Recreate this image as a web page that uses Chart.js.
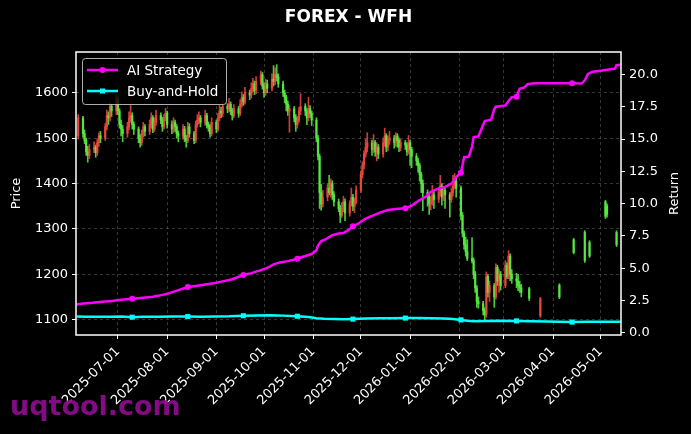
<!DOCTYPE html>
<html>
<head>
<meta charset="utf-8">
<script src="https://cdn.jsdelivr.net/npm/chart.js@4.4.1/dist/chart.umd.min.js"></script>
<style>
  html, body { margin: 0; background: #000; }
  canvas { display: block; }
</style>
</head>
<body>
<canvas id="chart" width="691" height="434"></canvas>
<script>
  // day numbers count from 2025-06-01 (day 0)
  const tickDays = [30, 61, 92, 122, 153, 183, 214, 245, 273, 304, 334];
  const tickLabels = ['2025-07-01', '2025-08-01', '2025-09-01', '2025-10-01', '2025-11-01', '2025-12-01',
    '2026-01-01', '2026-02-01', '2026-03-01', '2026-04-01', '2026-05-01'];
  const priceTicks = [1100, 1200, 1300, 1400, 1500, 1600];
  const returnTicks = [0, 2.5, 5, 7.5, 10, 12.5, 15, 17.5, 20];

  // ---------- candles ----------
  const candleDays = [5,
    8, 9, 10, 11, 12, 15, 16, 17, 18, 19, 22, 23, 24, 25, 26, 29, 30, 31, 32, 33,
    36, 37, 38, 39, 40, 43, 44, 45, 46, 47, 50, 51, 52, 53, 54, 57, 58, 59, 60, 61,
    64, 65, 66, 67, 68, 71, 72, 73, 74, 75, 78, 79, 80, 81, 82, 85, 86, 87, 88, 89,
    92, 93, 94, 95, 96, 99, 100, 101, 102, 103, 106, 107, 108, 109, 110, 113, 114, 115, 116, 117,
    120, 121, 122, 123, 124, 127, 128, 129, 130, 131, 134, 135, 136, 137, 138, 141, 142, 143, 144, 145,
    148, 149, 150, 151, 152, 155, 156, 157, 158, 159, 162, 163, 164, 165, 166, 169, 170, 171, 172, 173,
    176, 177, 178, 179, 180, 183, 184, 185, 186, 187, 190, 191, 192, 193, 194, 197, 198, 199, 200, 201,
    204, 205, 206, 207, 208, 211, 212, 213, 214, 215, 218, 219, 220, 221, 222, 225, 226, 227, 228, 229,
    232, 233, 234, 235, 236, 239, 240, 241, 242, 243, 246, 247, 248, 249, 250, 253, 254, 255, 256, 257,
    260, 261, 262, 263, 264, 267, 268, 269, 270, 271, 274, 275, 276, 277, 278, 281, 282, 283, 284,
    289, 296, 308, 317, 324, 327, 337, 338, 344];

  const openPrices = [1505,
    1545, 1510, 1495, 1470, 1462, 1475, 1480, 1468, 1490, 1505, 1500, 1525, 1550, 1545, 1570, 1560, 1585, 1560, 1530, 1520,
    1510, 1525, 1545, 1550, 1530, 1520, 1500, 1490, 1510, 1525, 1515, 1530, 1545, 1520, 1535, 1550, 1540, 1525, 1545, 1555,
    1530, 1520, 1535, 1525, 1510, 1505, 1520, 1500, 1495, 1525, 1510, 1495, 1530, 1540, 1545, 1535, 1550, 1530, 1525, 1510,
    1535, 1520, 1545, 1560, 1555, 1570, 1565, 1575, 1560, 1550, 1565, 1555, 1575, 1590, 1580, 1600, 1595, 1610, 1620, 1605,
    1625, 1640, 1615, 1600, 1620, 1610, 1630, 1625, 1640, 1635, 1620, 1600, 1590, 1575, 1560, 1565, 1545, 1530, 1540, 1560,
    1570, 1560, 1545, 1565, 1555, 1540, 1500, 1460, 1380, 1355, 1370, 1390, 1380, 1400, 1375, 1360, 1345, 1330, 1345, 1360,
    1335, 1355, 1370, 1350, 1360, 1385, 1420, 1440, 1465, 1480, 1490, 1475, 1490, 1470, 1480, 1465, 1490, 1505, 1480, 1495,
    1500, 1490, 1505, 1495, 1480, 1490, 1485, 1470, 1490, 1475, 1460, 1450, 1440, 1420, 1400, 1380, 1370, 1355, 1360, 1375,
    1365, 1380, 1395, 1370, 1385, 1375, 1365, 1380, 1395, 1405, 1390, 1330, 1290, 1265, 1250, 1235, 1230, 1200, 1170, 1140,
    1135, 1120, 1112, 1195, 1160, 1175, 1150, 1215, 1185, 1200, 1175, 1220, 1195, 1240, 1200, 1190, 1185, 1175, 1170,
    1168, 1108, 1176, 1276, 1292, 1270, 1360, 1350, 1292];

  const highPrices = [1552,
    1548, 1518, 1500, 1482, 1486, 1492, 1485, 1498, 1512, 1515, 1532, 1562, 1558, 1578, 1575, 1596, 1590, 1565, 1540, 1528,
    1535, 1558, 1572, 1556, 1536, 1525, 1508, 1518, 1535, 1530, 1540, 1556, 1550, 1545, 1562, 1556, 1546, 1552, 1566, 1560,
    1538, 1545, 1540, 1530, 1516, 1530, 1526, 1506, 1535, 1532, 1515, 1538, 1552, 1558, 1550, 1562, 1555, 1536, 1530, 1545,
    1540, 1555, 1572, 1568, 1582, 1576, 1588, 1580, 1566, 1574, 1570, 1585, 1602, 1596, 1612, 1606, 1622, 1632, 1626, 1636,
    1648, 1645, 1622, 1630, 1628, 1642, 1660, 1655, 1662, 1642, 1626, 1606, 1595, 1582, 1572, 1570, 1552, 1548, 1568, 1598,
    1576, 1565, 1590, 1572, 1560, 1545, 1506, 1465, 1398, 1385, 1400, 1418, 1410, 1406, 1382, 1366, 1352, 1358, 1372, 1366,
    1362, 1390, 1376, 1368, 1395, 1428, 1448, 1472, 1498, 1512, 1496, 1508, 1495, 1490, 1486, 1500, 1522, 1510, 1505, 1515,
    1506, 1512, 1510, 1500, 1498, 1495, 1490, 1506, 1496, 1480, 1466, 1456, 1445, 1425, 1408, 1386, 1376, 1372, 1396, 1382,
    1392, 1418, 1400, 1392, 1390, 1380, 1390, 1418, 1422, 1412, 1395, 1336, 1295, 1282, 1276, 1281, 1236, 1206, 1175, 1150,
    1140, 1126, 1205, 1200, 1185, 1180, 1223, 1220, 1210, 1206, 1230, 1225, 1252, 1245, 1210, 1202, 1200, 1185, 1178,
    1171, 1149, 1179, 1279, 1296, 1274, 1363, 1355, 1296];

  const lowPrices = [1498,
    1502, 1488, 1462, 1447, 1455, 1468, 1458, 1462, 1482, 1490, 1495, 1518, 1530, 1538, 1548, 1552, 1552, 1522, 1505, 1492,
    1502, 1518, 1535, 1520, 1508, 1490, 1480, 1484, 1502, 1505, 1508, 1522, 1512, 1515, 1528, 1532, 1515, 1520, 1538, 1522,
    1510, 1512, 1515, 1500, 1492, 1498, 1492, 1480, 1490, 1502, 1488, 1490, 1524, 1532, 1525, 1528, 1522, 1515, 1502, 1505,
    1512, 1515, 1538, 1545, 1548, 1556, 1558, 1552, 1540, 1545, 1546, 1550, 1568, 1572, 1575, 1585, 1588, 1602, 1596, 1598,
    1618, 1608, 1590, 1594, 1600, 1604, 1615, 1618, 1626, 1612, 1592, 1578, 1560, 1550, 1513, 1536, 1515, 1522, 1535, 1552,
    1550, 1530, 1538, 1546, 1528, 1492, 1452, 1345, 1341, 1348, 1362, 1375, 1370, 1365, 1350, 1338, 1314, 1325, 1338, 1318,
    1328, 1350, 1340, 1336, 1355, 1380, 1412, 1432, 1458, 1470, 1462, 1468, 1460, 1450, 1455, 1458, 1482, 1470, 1472, 1486,
    1478, 1482, 1480, 1470, 1472, 1475, 1462, 1465, 1440, 1435, 1440, 1425, 1405, 1380, 1340, 1350, 1332, 1342, 1352, 1345,
    1358, 1372, 1352, 1362, 1345, 1326, 1358, 1372, 1388, 1370, 1320, 1282, 1255, 1240, 1230, 1225, 1190, 1160, 1127, 1125,
    1110, 1098, 1105, 1150, 1140, 1127, 1145, 1175, 1160, 1165, 1170, 1190, 1190, 1186, 1180, 1170, 1164, 1160, 1150,
    1142, 1105, 1146, 1245, 1226, 1237, 1323, 1326, 1261];

  const closePrices = [1545,
    1510, 1495, 1470, 1462, 1475, 1480, 1468, 1490, 1505, 1500, 1525, 1550, 1545, 1570, 1560, 1585, 1560, 1530, 1520, 1510,
    1525, 1545, 1550, 1530, 1520, 1500, 1490, 1510, 1525, 1515, 1530, 1545, 1520, 1535, 1550, 1540, 1525, 1545, 1555, 1530,
    1520, 1535, 1525, 1510, 1505, 1520, 1500, 1495, 1525, 1510, 1495, 1530, 1540, 1545, 1535, 1550, 1530, 1525, 1510, 1535,
    1520, 1545, 1560, 1555, 1570, 1565, 1575, 1560, 1550, 1565, 1555, 1575, 1590, 1580, 1600, 1595, 1610, 1620, 1605, 1625,
    1640, 1615, 1600, 1620, 1610, 1630, 1625, 1640, 1635, 1620, 1600, 1590, 1575, 1560, 1565, 1545, 1530, 1540, 1560, 1570,
    1560, 1545, 1565, 1555, 1540, 1500, 1460, 1380, 1355, 1370, 1390, 1380, 1400, 1375, 1360, 1345, 1330, 1345, 1360, 1335,
    1355, 1370, 1350, 1360, 1385, 1420, 1440, 1465, 1480, 1490, 1475, 1490, 1470, 1480, 1465, 1490, 1505, 1480, 1495, 1500,
    1490, 1505, 1495, 1480, 1490, 1485, 1470, 1490, 1475, 1460, 1450, 1440, 1420, 1400, 1380, 1370, 1355, 1360, 1375, 1365,
    1380, 1395, 1370, 1385, 1375, 1365, 1380, 1395, 1405, 1390, 1330, 1290, 1265, 1250, 1235, 1230, 1200, 1170, 1140, 1135,
    1120, 1110, 1195, 1160, 1175, 1150, 1215, 1185, 1200, 1175, 1220, 1195, 1240, 1200, 1190, 1185, 1175, 1170, 1160,
    1147, 1146, 1150, 1248, 1230, 1240, 1328, 1332, 1265];

  // ---------- return lines ----------
  const aiDays = [4, 8, 14, 20, 26, 32, 39, 46, 52, 56, 62, 68, 74, 80, 86, 91, 96, 102, 109, 114,
    120, 124, 128, 132, 137, 143, 148, 152, 155, 156, 158, 161, 165, 169, 172, 175, 178, 182, 186, 190,
    195, 200, 205, 211, 215, 220, 224, 227, 231, 236, 240, 243, 246, 247, 248, 251, 253, 254, 257, 259,
    261, 265, 267, 268, 274, 276, 278, 281, 283, 286, 288, 292, 300, 316, 322, 324, 326, 329, 335, 340,
    343, 344, 347];
  const aiReturns = [2.20, 2.26, 2.32, 2.40, 2.47, 2.55, 2.63, 2.72, 2.80, 2.88, 3.05, 3.30, 3.55, 3.65, 3.76, 3.85, 3.98, 4.15, 4.47, 4.62,
    4.85, 5.02, 5.30, 5.45, 5.55, 5.73, 5.95, 6.10, 6.40, 6.75, 7.10, 7.25, 7.55, 7.68, 7.72, 7.95, 8.25, 8.50, 8.85, 9.05,
    9.30, 9.50, 9.58, 9.64, 9.85, 10.28, 10.55, 10.92, 11.12, 11.30, 11.55, 12.05, 12.40, 13.00, 13.60, 13.65, 14.40, 15.15, 15.20, 15.80,
    16.40, 16.50, 17.30, 17.50, 17.60, 17.95, 18.25, 18.28, 18.90, 19.00, 19.25, 19.32, 19.33, 19.32, 19.30, 19.55, 20.05, 20.22, 20.30, 20.40,
    20.45, 20.72, 20.76];

  const bhDays = [4, 10, 18, 26, 32, 39, 46, 56, 64, 74, 82, 91, 100, 109, 118, 126, 134, 143, 150, 155,
    160, 166, 172, 178, 186, 195, 203, 211, 219, 227, 235, 241, 246, 250, 254, 262, 270, 281, 290, 300,
    308, 316, 325, 335, 347];
  const bhReturns = [1.26, 1.25, 1.24, 1.25, 1.26, 1.21, 1.25, 1.24, 1.26, 1.26, 1.25, 1.27, 1.28, 1.32, 1.34, 1.36, 1.33, 1.28, 1.22, 1.12,
    1.08, 1.06, 1.04, 1.06, 1.10, 1.12, 1.13, 1.14, 1.14, 1.12, 1.10, 1.07, 1.00, 0.94, 0.90, 0.91, 0.93, 0.92, 0.90, 0.88,
    0.86, 0.83, 0.85, 0.85, 0.85];

  const markerDays = [39, 74, 109, 143, 178, 211, 246, 281, 316];

  const FONT = 'DejaVu Sans';
  const RED = 'rgba(240,72,64,0.85)';
  const GREEN = 'rgba(86,240,66,0.85)';
  const GRID = 'rgba(150,150,150,0.45)';

  Chart.defaults.font.family = FONT;
  Chart.defaults.color = '#fff';

  const wickData = candleDays.map((d, i) => ({ x: d, y: [lowPrices[i], highPrices[i]] }));
  const bodyData = candleDays.map((d, i) => ({ x: d, y: [openPrices[i], closePrices[i]] }));
  const candleColors = candleDays.map((d, i) => closePrices[i] > openPrices[i] ? RED : GREEN);

  const markerSize = (r) => (ctx) => (ctx.raw && markerDays.includes(ctx.raw.x)) ? r : 0;

  // title, frame, legend, axis titles, watermark
  const decor = {
    id: 'decor',
    afterDatasetsDraw(chart) {
      const { ctx, chartArea: a } = chart;
      ctx.save();
      ctx.strokeStyle = '#fff';
      ctx.lineWidth = 1.5;
      ctx.strokeRect(a.left, a.top, a.right - a.left, a.bottom - a.top);

      // legend box
      ctx.beginPath();
      ctx.roundRect(82.5, 58.5, 144, 46, 3);
      ctx.fillStyle = 'rgba(0,0,0,0.8)';
      ctx.fill();
      ctx.strokeStyle = 'rgba(204,204,204,0.85)';
      ctx.lineWidth = 1;
      ctx.stroke();

      const items = [
        { label: 'AI Strategy', color: '#ff00ff', y: 70, square: false },
        { label: 'Buy-and-Hold', color: '#00ffff', y: 91, square: true },
      ];
      ctx.font = '13.5px ' + FONT;
      ctx.textBaseline = 'middle';
      ctx.textAlign = 'left';
      for (const it of items) {
        ctx.strokeStyle = it.color;
        ctx.lineWidth = 2.5;
        ctx.beginPath();
        ctx.moveTo(87, it.y);
        ctx.lineTo(118, it.y);
        ctx.stroke();
        ctx.fillStyle = it.color;
        if (it.square) {
          ctx.fillRect(100, it.y - 2.5, 5, 5);
        } else {
          ctx.beginPath();
          ctx.arc(102.5, it.y, 3, 0, Math.PI * 2);
          ctx.fill();
        }
        ctx.fillStyle = '#fff';
        ctx.fillText(it.label, 127, it.y + 1);
      }
      ctx.restore();
    },
    afterDraw(chart) {
      const { ctx, chartArea: a } = chart;
      const midY = (a.top + a.bottom) / 2;
      ctx.save();
      ctx.fillStyle = '#fff';
      ctx.textAlign = 'center';
      ctx.textBaseline = 'middle';
      ctx.font = 'bold 17px ' + FONT;
      ctx.fillText('FOREX - WFH', (a.left + a.right) / 2, 18);

      ctx.font = '13px ' + FONT;
      ctx.save();
      ctx.translate(17, midY);
      ctx.rotate(-Math.PI / 2);
      ctx.fillText('Price', 0, 0);
      ctx.restore();
      ctx.save();
      ctx.translate(675, midY);
      ctx.rotate(-Math.PI / 2);
      ctx.fillText('Return', 0, 0);
      ctx.restore();

      ctx.font = 'bold 27px ' + FONT;
      ctx.textAlign = 'left';
      ctx.textBaseline = 'alphabetic';
      ctx.fillStyle = 'rgba(138,12,138,0.95)';
      ctx.fillText('uqtool.com', 10, 415);
      ctx.restore();
    },
  };

  new Chart(document.getElementById('chart'), {
    type: 'bar',
    data: {
      datasets: [
        {
          type: 'line', label: 'AI Strategy', yAxisID: 'y2', order: 0,
          data: aiDays.map((d, i) => ({ x: d, y: aiReturns[i] })),
          borderColor: '#ff00ff', borderWidth: 2.5, tension: 0,
          pointStyle: 'circle', pointRadius: markerSize(3), pointBackgroundColor: '#ff00ff', pointBorderWidth: 0,
        },
        {
          type: 'line', label: 'Buy-and-Hold', yAxisID: 'y2', order: 0,
          data: bhDays.map((d, i) => ({ x: d, y: bhReturns[i] })),
          borderColor: '#00ffff', borderWidth: 2.5, tension: 0,
          pointStyle: 'rect', pointRadius: markerSize(3.6), pointBackgroundColor: '#00ffff', pointBorderWidth: 0,
        },
        {
          label: 'body', yAxisID: 'y', order: 1, data: bodyData,
          backgroundColor: candleColors, barThickness: 1.6, grouped: false, borderWidth: 0,
        },
        {
          label: 'wick', yAxisID: 'y', order: 2, data: wickData,
          backgroundColor: candleColors, barThickness: 1, grouped: false, borderWidth: 0,
        },
      ],
    },
    options: {
      responsive: false,
      animation: false,
      devicePixelRatio: 1,
      layout: { padding: { top: 52, left: 0, right: 0, bottom: 0 } },
      plugins: { legend: { display: false }, tooltip: { enabled: false }, title: { display: false } },
      scales: {
        x: {
          type: 'linear', min: 3.6, max: 346.8, offset: false,
          afterBuildTicks: (s) => { s.ticks = tickDays.map(v => ({ value: v })); },
          afterFit: (s) => { s.height = 99; },
          grid: { color: GRID, lineWidth: 0.8, offset: false, tickLength: 4, tickColor: '#fff', tickWidth: 1, tickBorderDash: [] },
          border: { display: false, dash: [3, 3] },
          ticks: {
            color: '#fff', font: { size: 13 }, autoSkip: false, minRotation: 45, maxRotation: 45, padding: 5,
            callback: (v, i) => tickLabels[i],
          },
        },
        y: {
          position: 'left', min: 1066, max: 1690,
          afterBuildTicks: (s) => { s.ticks = priceTicks.map(v => ({ value: v })); },
          afterFit: (s) => { s.width = 76; },
          grid: { color: GRID, lineWidth: 0.8, tickLength: 4, tickColor: '#fff', tickWidth: 1, tickBorderDash: [] },
          border: { display: false, dash: [3, 3] },
          ticks: { color: '#fff', font: { size: 13 }, padding: 4, callback: (v) => String(v) },
        },
        y2: {
          position: 'right', min: -0.17, max: 21.74,
          afterBuildTicks: (s) => { s.ticks = returnTicks.map(v => ({ value: v })); },
          afterFit: (s) => { s.width = 70; },
          grid: { drawOnChartArea: false, tickLength: 4, tickColor: '#fff', tickWidth: 1 },
          border: { display: false },
          ticks: { color: '#fff', font: { size: 13 }, padding: 4, callback: (v) => Number(v).toFixed(1) },
        },
      },
    },
    plugins: [decor],
  });
</script>
</body>
</html>
